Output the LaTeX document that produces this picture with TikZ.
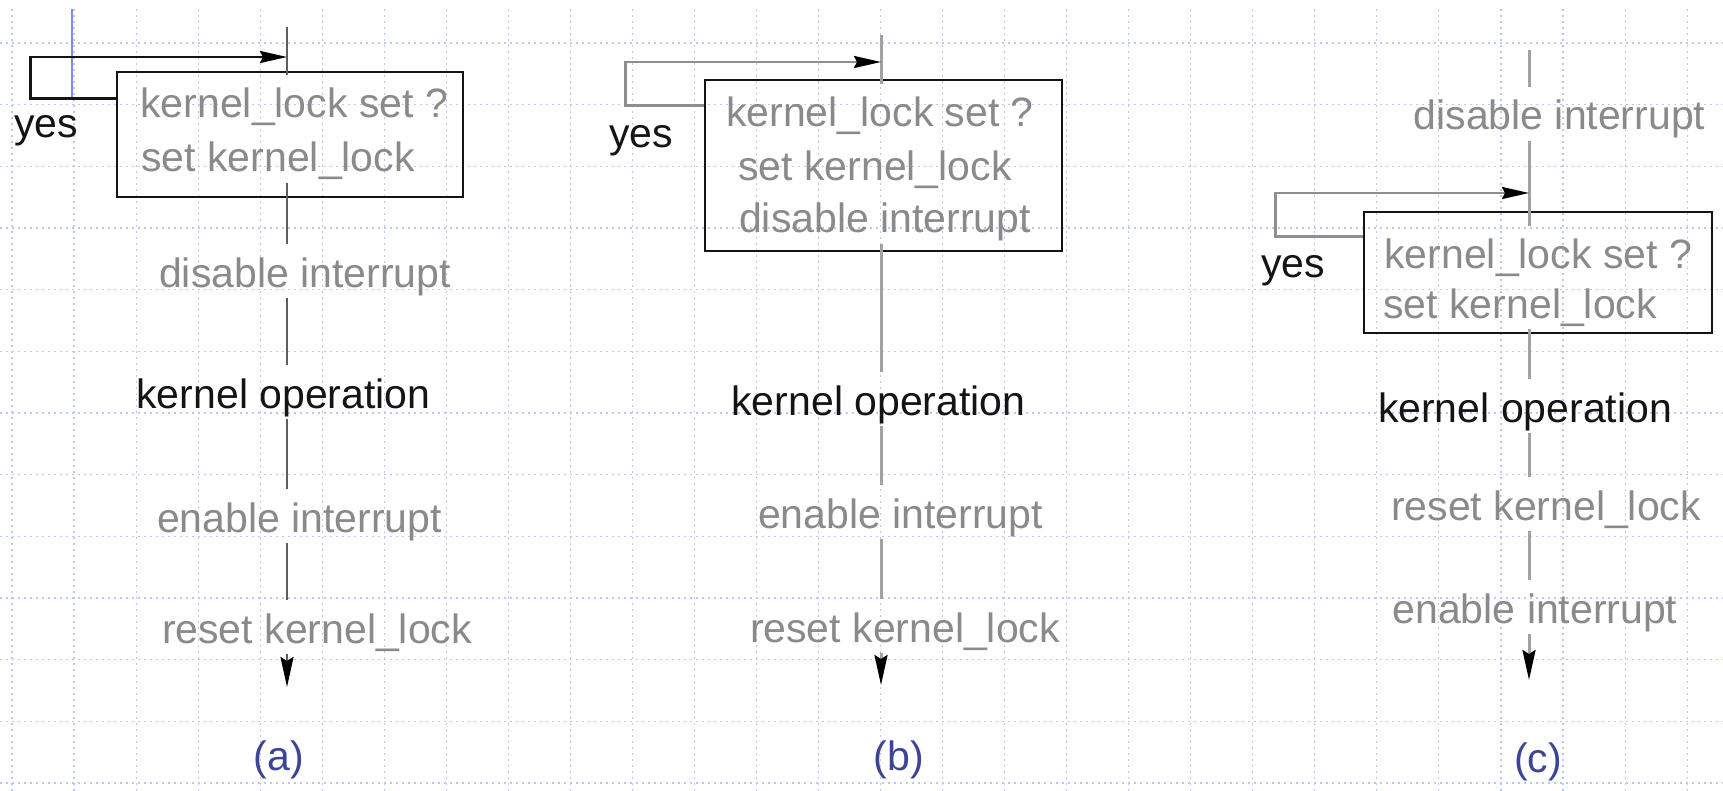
\documentclass[tikz,border=0pt]{standalone}
\usepackage{fontspec}
\setmainfont{Liberation Sans}
\usetikzlibrary{arrows.meta}
\definecolor{gridblue}{HTML}{BCC8F4}
\definecolor{markblue}{HTML}{7C8CE8}
\definecolor{txtgray}{HTML}{8A8A8A}
\definecolor{inkblack}{HTML}{141414}
\definecolor{flowdark}{HTML}{5E5E5E}
\definecolor{flowlight}{HTML}{A2A2A2}
\definecolor{loopgray}{HTML}{8F8F8F}
\definecolor{capblue}{HTML}{3C4595}

\begin{document}
\begin{tikzpicture}[x=0.5pt,y=-0.5pt,
  txt/.style={inner xsep=0pt,inner ysep=0pt,text height=21.5pt,text depth=5.5pt,
              font=\fontsize{20.5}{24}\selectfont},
  soft/.style={txt,text=txtgray},
  hard/.style={txt,text=inkblack},
  panelname/.style={txt,text=capblue},
  gridline/.style={draw=gridblue,line width=0.55pt,dash pattern=on 1pt off 2pt},
  lockbox/.style={draw=inkblack,line width=1.4pt,inner sep=0pt},
  flowA/.style={draw=flowdark,line width=1.2pt},
  flowB/.style={draw=flowlight,line width=1.5pt},
  loopA/.style={draw=inkblack,line width=1.2pt,
                -{Stealth[length=13.5pt,width=6pt,inset=1.5pt,color=black]}},
  loopB/.style={draw=loopgray,line width=1.3pt,
                -{Stealth[length=13.5pt,width=6pt,inset=1.5pt,color=black]}},
  tipdown/.style={-{Stealth[length=15pt,width=6.5pt,inset=2pt,color=black]}}
]
% page and background
\useasboundingbox (0,0) rectangle (1723,791);
\fill[white] (0,0) rectangle (1723,791);

% dotted paper grid
\foreach \k in {0,...,27}
  \draw[gridline] ({12+62.04*\k},9) -- ({12+62.04*\k},791);
\foreach \k in {0,...,12}
  \draw[gridline] (0,{43+61.67*\k}) -- (1723,{43+61.67*\k});
\draw[markblue,line width=0.8pt] (72,9) -- (72,100);

% ---------------- panel (a) ----------------
\coordinate (topa) at (287,27);
\coordinate (joina) at (287,57);
\coordinate (enda) at (287,687);
\node[lockbox,minimum width=173pt,minimum height=62.5pt] (boxa) at (290,134.5) {};
\node[soft,anchor=base west] (ka1) at (140,118) {kernel\_lock set ?};
\node[soft,anchor=base west] (ka2) at (141,172) {set kernel\_lock};
\node[soft,anchor=base] (da) at (305,287) {disable interrupt};
\node[hard,anchor=base] (oa) at (283.5,408) {kernel operation};
\node[soft,anchor=base] (ea) at (299.5,532) {enable interrupt};
\node[soft,anchor=base] (ra) at (317,643) {reset kernel\_lock};
\node[hard,anchor=base west] (ya) at (14,138) {yes};
\node[panelname,anchor=base] (capa) at (279,770) {(a)};

\draw[flowA] (topa) -- (ka1.north -| topa);
\draw[flowA] (ka2.south -| topa) -- (da.north -| topa);
\draw[flowA] (da.south -| topa) -- (oa.north -| topa);
\draw[flowA] (oa.south -| topa) -- (ea.north -| topa);
\draw[flowA] (ea.south -| topa) -- (ra.north -| topa);
\draw[flowA,tipdown] (ra.south -| topa) -- (enda);
\draw[loopA] (boxa.north west) ++(0,28) -- ++(-85,0) |- (joina);

% ---------------- panel (b) ----------------
\coordinate (topb) at (881,35);
\coordinate (joinb) at (881,62);
\coordinate (endb) at (881,685);
\node[lockbox,minimum width=178.5pt,minimum height=85.5pt] (boxb) at (883.5,165.5) {};
\node[soft,anchor=base] (kb1) at (880,127) {kernel\_lock set ?};
\node[soft,anchor=base] (kb2) at (875,181) {set kernel\_lock};
\node[soft,anchor=base] (db) at (885,233) {disable interrupt};
\node[hard,anchor=base] (ob) at (878.5,415) {kernel operation};
\node[soft,anchor=base] (eb) at (900.5,528) {enable interrupt};
\node[soft,anchor=base] (rb) at (905,642) {reset kernel\_lock};
\node[hard,anchor=base west] (yb) at (609,148) {yes};
\node[panelname,anchor=base] (capb) at (899,770) {(b)};

\draw[flowB] (topb) -- (kb1.north -| topb);
\draw[flowB] (db.south -| topb) -- (ob.north -| topb);
\draw[flowB] (ob.south -| topb) -- (eb.north -| topb);
\draw[flowB] (eb.south -| topb) -- (rb.north -| topb);
\draw[flowB,tipdown] (rb.south -| topb) -- (endb);
\draw[loopB] (boxb.north west) ++(0,27) -- ++(-78,0) |- (joinb);

% ---------------- panel (c) ----------------
\coordinate (topc) at (1529,50);
\coordinate (joinc) at (1529,193);
\coordinate (endc) at (1529,680);
\node[lockbox,minimum width=174pt,minimum height=60.5pt] (boxc) at (1538,272.5) {};
\node[soft,anchor=base] (dc) at (1559.5,130) {disable interrupt};
\node[soft,anchor=base west] (kc1) at (1384,269) {kernel\_lock set ?};
\node[soft,anchor=base west] (kc2) at (1383,318) {set kernel\_lock};
\node[hard,anchor=base] (oc) at (1525,422) {kernel operation};
\node[soft,anchor=base] (rc) at (1546,520) {reset kernel\_lock};
\node[soft,anchor=base] (ec) at (1535,623) {enable interrupt};
\node[hard,anchor=base west] (yc) at (1261,278) {yes};
\node[panelname,anchor=base] (capc) at (1538,772) {(c)};

\draw[flowB] (topc) -- (dc.north -| topc);
\draw[flowB] (dc.south -| topc) -- (kc1.north -| topc);
\draw[flowB] (kc2.south -| topc) -- (oc.north -| topc);
\draw[flowB] (oc.south -| topc) -- (rc.north -| topc);
\draw[flowB] (rc.south -| topc) -- (ec.north -| topc);
\draw[flowB,tipdown] (ec.south -| topc) -- (endc);
\draw[loopB] (boxc.north west) ++(0,26) -- ++(-87,0) |- (joinc);
\end{tikzpicture}
\end{document}
